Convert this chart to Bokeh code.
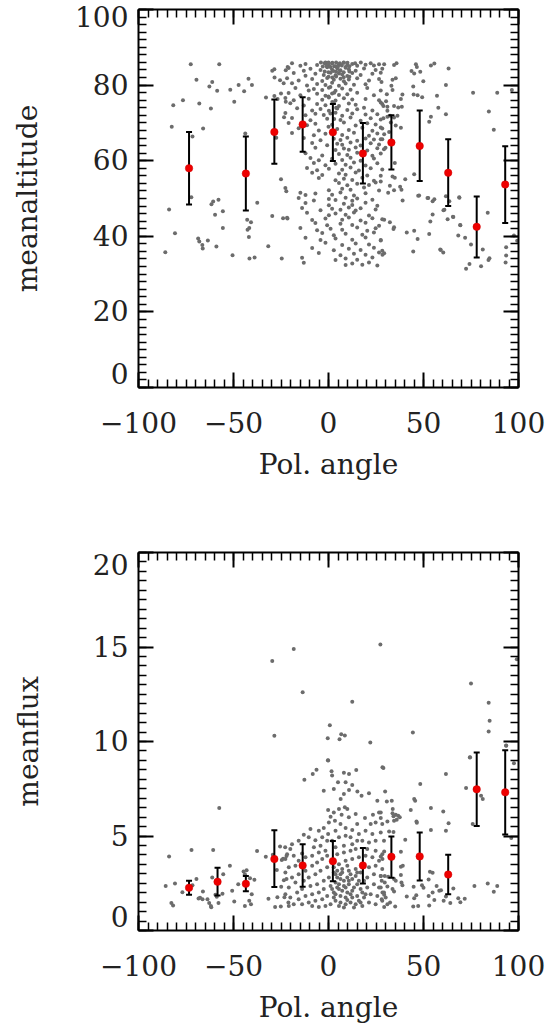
from bokeh.plotting import figure
from bokeh.layouts import column
from bokeh.models import Range1d, LinearAxis, SingleIntervalTicker, CustomJSTickFormatter
from bokeh.embed import file_html
from bokeh.resources import INLINE

FONT = "DejaVu Serif"
FS = "28px"

# ---------------- binned means (red points with error bars) ----------------
alt_bin_x = [-73.4, -43.5, -28.5, -13.6, 2.3, 18.1, 33.1, 48.0, 63.0, 78.0, 93.0]
alt_mean = [58.0, 56.6, 67.6, 69.6, 67.5, 61.9, 64.8, 63.9, 56.8, 42.5, 53.7]
alt_hi = [67.6, 66.4, 76.2, 76.8, 75.0, 70.0, 72.0, 73.3, 65.7, 50.5, 63.8]
alt_lo = [48.4, 46.8, 59.2, 62.4, 59.9, 54.0, 57.7, 54.6, 48.0, 34.4, 43.5]

flux_bin_x = [-73.4, -58.4, -43.5, -28.5, -13.6, 2.3, 18.1, 33.1, 48.0, 63.0, 78.0, 93.0]
flux_mean = [2.26, 2.58, 2.47, 3.78, 3.44, 3.67, 3.44, 3.90, 3.92, 2.96, 7.47, 7.31]
flux_hi = [2.63, 3.32, 2.88, 5.30, 4.57, 4.73, 4.36, 4.98, 5.19, 4.01, 9.42, 9.54]
flux_lo = [1.89, 1.85, 2.08, 2.30, 2.31, 2.61, 2.49, 2.79, 2.65, 1.92, 5.53, 5.08]

# ---------------- individual measurements: meanaltitude ----------------
alt_left = [(-72.5, 85.5), (-57.5, 85.5), (-69.5, 81.4), (-61.2, 80.8), (-62.7, 79.6), (-58.6, 78.5),
            (-51.7, 78.8), (-47.3, 80.0), (-44.4, 78.4), (-42.1, 81.7), (-40.3, 80.0), (-76.6, 76.0),
            (-81.7, 74.7), (-68.0, 75.1), (-61.9, 73.8), (-49.6, 75.6), (-82.5, 69.0), (-66.0, 68.5),
            (-71.6, 66.4), (-43.8, 67.2), (-29.6, 83.8), (-28.5, 84.2), (-22.5, 83.9), (-21.5, 84.8),
            (-28.4, 82.0), (-25.5, 81.3), (-23.6, 80.5), (-32.9, 76.7), (-28.5, 77.1), (-26.8, 76.3),
            (-25.0, 77.8), (-22.5, 75.6), (-23.4, 71.5), (-27.5, 66.1), (-25.0, 55.1), (-22.2, 51.9),
            (-83.9, 47.1), (-72.2, 50.3), (-61.6, 48.5), (-60.7, 49.2), (-57.9, 49.7), (-55.6, 46.6),
            (-59.7, 45.7), (-37.5, 48.9), (-42.8, 44.4), (-40.8, 43.7), (-41.7, 42.2), (-42.6, 41.7),
            (-41.9, 39.8), (-55.6, 42.2), (-29.6, 45.4), (-23.9, 44.8), (-21.6, 44.7), (-80.8, 40.8),
            (-68.6, 39.4), (-68.0, 38.6), (-66.4, 37.7), (-66.2, 36.8), (-63.5, 38.9), (-59.0, 37.3),
            (-85.9, 35.8), (-50.5, 35.0), (-41.6, 34.1), (-38.9, 34.4), (-31.7, 37.4), (-24.6, 34.1)]

alt_right = [(29.3, 85.5), (34.5, 85.3), (35.8, 85.8), (46.0, 85.5), (46.5, 84.8), (53.9, 85.2),
             (55.7, 85.7), (63.2, 84.4), (27.5, 83.3), (43.7, 83.7), (45.1, 83.1), (48.3, 83.5),
             (33.7, 81.4), (35.4, 81.8), (49.9, 81.0), (27.9, 80.8), (33.1, 79.8), (33.7, 78.7),
             (44.6, 79.6), (61.8, 80.0), (30.7, 77.6), (38.9, 77.5), (44.8, 77.5), (46.9, 77.3),
             (49.3, 76.8), (57.1, 77.2), (76.1, 78.0), (88.8, 78.0), (96.5, 78.7), (38.1, 76.3),
             (30.3, 75.7), (27.5, 75.4), (28.9, 74.5), (31.0, 74.3), (34.5, 74.5), (36.7, 74.1),
             (38.6, 74.3), (57.8, 74.0), (31.0, 73.2), (84.4, 73.0), (61.8, 72.3), (28.9, 71.2),
             (31.0, 71.6), (32.4, 71.9), (34.5, 71.4), (36.3, 71.9), (53.9, 71.6), (53.0, 70.3),
             (32.8, 70.1), (35.4, 69.3), (38.1, 68.7), (87.0, 68.2), (27.5, 68.8), (29.3, 67.0),
             (31.9, 67.6), (27.5, 65.7), (30.0, 63.4), (34.9, 59.4), (27.5, 56.0), (33.7, 55.8),
             (34.9, 55.5), (40.4, 55.1), (45.1, 56.4), (27.5, 54.5), (32.3, 53.4), (34.5, 52.2),
             (31.4, 51.5), (37.7, 53.1), (38.4, 52.3), (39.0, 49.5), (47.7, 50.8), (52.5, 50.1),
             (54.8, 49.3), (55.7, 49.8), (61.8, 50.6), (63.6, 49.3), (68.9, 50.2), (61.0, 47.0),
             (54.8, 45.8), (53.6, 43.9), (53.0, 40.6), (62.7, 44.5), (65.7, 45.1), (69.4, 42.9),
             (68.3, 40.2), (71.9, 39.6), (75.0, 37.8), (29.3, 44.4), (32.3, 43.7), (34.5, 42.4),
             (34.2, 41.9), (41.2, 41.0), (45.1, 41.5), (46.9, 39.3), (83.8, 46.2), (27.5, 39.0),
             (28.4, 35.1), (29.3, 35.5), (44.6, 36.0), (58.8, 36.5), (60.4, 35.7), (81.2, 36.5),
             (84.7, 34.2), (84.2, 33.7), (74.2, 32.7), (72.4, 31.4), (80.3, 32.1), (93.5, 37.1),
             (93.5, 34.9), (93.2, 33.1), (97.6, 40.2), (99.3, 38.8), (60.5, 46.9), (65.5, 45.2),
             (68.8, 50.3), (59.1, 36.4), (69.3, 43.0), (47.2, 50.7), (52.1, 50.1)]

alt_center_x = [
    -19.2, -14.8, -12.1, -6.0, -1.6, 0.2, 1.9, 3.7, 5.5, 8.1, 9.9, 12.5, 15.1, 19.5, 22.2, 23.9, 26.6,
    -21.0, -13.0, -9.5, -4.2, -0.7, 1.9, 4.6, 6.3, 9.0, 10.7, 14.3, 18.7, 24.8, 28.3,
    -18.3, -12.1, -6.9, -2.5, 1.1, 3.7, 5.5, 7.2, 9.9, 12.5, 16.9, 23.1,
    -21.8, -15.7, -8.6, -3.3, -0.7, 2.8, 6.3, 8.1, 10.7, 15.1, 21.3, 26.6,
    -19.2, -11.3, -6.0, -1.6, 1.9, 5.5, 9.0, 13.4, 19.5,
    -17.4, -10.4, -7.7, -3.3, 0.2, 3.7, 7.2, 11.6, 20.4, 27.5,
    -21.0, -14.8, -6.0, -1.6, 1.9, 5.5, 9.9, 15.1, 23.9,
    -22.7, -18.3, -10.4, -3.3, 0.2, 3.7, 8.1, 12.5, 19.5, 26.6,
    -20.1, -13.0, -6.0, -1.6, 2.8, 5.5, 10.7, 14.3, 28.3,
    -16.5, -8.6, -4.2, 0.2, 4.6, 9.9, 15.1, 18.7, 23.1,
    -22.7, -12.1, -6.9, -2.5, 3.7, 7.2, 12.5, 19.5, 25.7,
    -19.2, -9.5, -0.7, 6.3, 11.6, 16.9, 22.2, 27.5,
    -21.0, -11.3, -6.9, 1.9, 8.1, 14.3, 20.4, 24.8,
    -15.7, -5.1, 4.6, 10.7, 17.8, 23.1, 28.3,
    -19.2, -7.7, -1.6, 7.2, 13.4, 21.3, 25.7,
    -13.0, -4.2, 2.8, 6.3, 9.9, 15.1, 19.5, 23.9, 28.3,
    -8.6, -0.7, 4.6, 7.2, 11.6, 16.9, 22.2, 26.6,
    -6.9, 3.7, 8.1, 10.7, 14.3, 20.4, 25.7, 29.2,
    -12.1, -3.3, 5.5, 9.9, 15.1, 23.1, 27.5,
    -9.5, -5.1, 1.9, 7.2, 11.6, 16.9, 23.9,
    -7.7, -1.6, 3.7, 9.0, 13.4, 19.5, 25.7,
    -11.3, -6.0, 0.2, 7.2, 11.6, 16.0, 22.2, 28.3,
    -8.6, -3.3, 5.5, 9.0, 14.3, 20.4,
    -5.1, 3.7, 8.1, 12.5, 17.8, 23.9,
    5.5, 9.9, 15.1, 21.3, 24.8,
    -22.7, 0.2, 7.2, 11.6, 18.7, 26.6,
    -14.8, -12.1, -6.9, 1.9, 6.3, 13.4, 19.5,
    -15.7, -7.7, 0.2, 3.7, 9.0, 12.5, 15.1, 23.1,
    -12.1, 0.2, 8.1, 12.5, 19.5, 25.7,
    -13.9, -4.2, 1.9, 6.3, 10.7, 14.3, 16.9, 24.8,
    -11.3, 0.2, 3.7, 9.0, 13.4, 21.3,
    -21.8, -8.6, -1.6, 7.2, 10.7, 16.9, 23.1, 28.3,
    -6.9, -0.7, 6.3, 12.5, 19.5, 26.6,
    -14.8, -6.0, 1.1, 7.2, 15.1, 20.4, 24.8,
    -3.3, 2.8, 9.0, 17.8, 23.9,
    -12.1, -4.2, 3.7, 12.5, 19.5, 27.5,
    -1.6, 7.2, 14.3, 21.3,
    -8.6, 2.8, 10.7, 16.9, 23.9, 28.3,
    -5.1, 6.3, 13.4, 19.5, 26.6,
    -13.9, 3.7, 9.0, 15.1, 23.1,
    -13.0, 9.0, 12.5, 17.8, 21.3, 25.7,
    -4.0, -2.0, 0.0, 2.0, 4.0, 6.0, 8.0, 10.0, 14.0, 17.0,
    -3.0, -1.0, 1.0, 3.0, 5.0, 7.0, 9.0, 11.0,
    -2.0, 0.0, 2.5, 4.0, 6.0, 8.0, 11.0,
    0.0, 2.0, 4.0, 8.0, 11.0,
    1.0, 3.0, 0.0, 2.0, 4.0, 1.0, 3.0, 0.0, 2.0]

alt_center_y = [
    85.8, 85.1, 85.6, 85.3, 86.0, 85.2, 85.7, 85.0, 85.5, 85.9, 85.3, 85.6, 85.1, 85.4, 85.8, 85.2, 85.5,
    84.5, 83.8, 84.3, 84.0, 84.7, 84.1, 84.4, 83.9, 84.6, 84.2, 83.8, 84.4, 84.0, 84.3,
    83.2, 82.5, 83.0, 82.7, 83.3, 82.6, 83.1, 82.8, 82.4, 83.2, 82.7, 83.0,
    81.8, 81.2, 81.6, 81.1, 81.9, 81.4, 81.7, 81.0, 81.5, 81.8, 81.2, 81.6,
    80.5, 79.9, 80.3, 80.0, 80.6, 79.8, 80.4, 80.1, 80.2,
    79.2, 78.6, 79.0, 78.7, 79.3, 78.5, 79.1, 78.8, 79.2, 78.6,
    77.9, 77.3, 77.7, 77.2, 77.8, 77.4, 77.6, 78.0, 77.3,
    76.6, 76.0, 76.4, 76.1, 76.7, 75.9, 76.5, 76.2, 76.3, 76.0,
    75.2, 74.6, 75.0, 74.7, 75.3, 74.5, 75.1, 74.8, 75.0,
    73.9, 73.3, 73.7, 73.2, 73.8, 73.4, 73.6, 74.0, 73.3,
    72.6, 72.0, 72.4, 72.1, 72.7, 71.9, 72.5, 72.2, 72.3,
    71.3, 70.7, 71.1, 70.8, 71.4, 70.6, 71.2, 70.9,
    70.0, 69.4, 69.8, 69.5, 70.1, 69.3, 69.9, 69.6,
    68.6, 68.0, 68.4, 68.1, 68.7, 67.9, 68.5,
    67.3, 66.7, 67.1, 66.8, 67.4, 66.6, 67.2,
    66.0, 65.4, 65.8, 65.5, 66.1, 65.3, 65.9, 65.6, 65.7,
    64.7, 64.1, 64.5, 64.2, 64.8, 64.0, 64.6, 64.3,
    63.4, 62.8, 63.2, 62.9, 63.5, 62.7, 63.3, 63.0,
    62.0, 61.4, 61.8, 61.5, 62.1, 61.3, 61.9,
    60.7, 60.1, 60.5, 60.2, 60.8, 60.0, 60.6,
    59.4, 58.8, 59.2, 58.9, 59.5, 58.7, 59.3,
    58.1, 57.5, 57.9, 57.6, 58.2, 57.4, 58.0, 57.7,
    56.8, 56.2, 56.6, 56.3, 56.9, 56.1,
    55.4, 54.8, 55.2, 54.9, 55.5, 54.7,
    54.1, 53.5, 53.9, 53.6, 54.2,
    52.8, 52.2, 52.6, 52.3, 52.9, 52.1,
    51.5, 50.9, 51.3, 51.0, 51.6, 50.8, 51.4,
    50.1, 49.5, 49.9, 49.6, 50.2, 49.4, 50.0, 49.7,
    48.8, 48.2, 48.6, 48.3, 48.9, 48.1,
    47.5, 46.9, 47.3, 47.0, 47.6, 46.8, 47.4, 47.1,
    46.2, 45.6, 46.0, 45.7, 46.3, 45.5,
    44.9, 44.3, 44.7, 44.4, 45.0, 44.2, 44.8, 44.5,
    43.5, 42.9, 43.3, 43.0, 43.6, 42.8,
    42.2, 41.6, 42.0, 41.7, 42.3, 41.5, 42.1,
    40.9, 40.3, 40.7, 40.4, 41.0,
    39.6, 39.0, 39.4, 39.1, 39.7, 38.9,
    38.3, 37.7, 38.1, 37.8,
    36.9, 36.3, 36.7, 36.4, 37.0, 36.2,
    35.6, 35.0, 35.4, 35.1, 35.7,
    34.3, 33.7, 34.1, 33.8, 34.4,
    33.0, 32.4, 32.8, 32.5, 33.1, 32.3,
    86.0, 85.8, 86.0, 85.9, 86.0, 85.8, 86.0, 85.9, 85.8, 86.0,
    84.9, 85.1, 84.8, 85.0, 84.9, 85.2, 84.8, 85.0,
    83.6, 83.4, 83.7, 83.5, 83.8, 83.4, 83.6,
    82.2, 82.0, 82.3, 82.1, 82.2,
    79.5, 78.0, 77.0, 75.5, 74.0, 72.5, 71.0, 69.0, 67.5]

# ---------------- individual measurements: meanflux ----------------
flux_upper = [(-18.3, 14.89), (-29.6, 14.26), (27.3, 15.13), (-13.6, 12.60), (12.5, 12.10),
              (0.7, 10.86), (-28.5, 10.30), (-0.4, 10.17), (6.7, 10.39), (5.8, 10.12), (8.6, 10.32),
              (22.0, 9.95), (44.4, 10.48), (75.0, 13.07), (84.3, 12.05), (84.8, 11.10), (84.3, 10.53),
              (99.1, 14.35), (93.5, 9.79), (74.4, 9.15), (-0.3, 9.01)]

flux_left = [(-57.5, 6.48), (-72.1, 4.26), (-60.7, 4.26), (-83.9, 3.92), (-85.7, 2.35), (-80.8, 2.49),
             (-82.7, 1.46), (-81.8, 1.32), (-76.9, 2.03), (-71.6, 2.40), (-69.5, 2.72), (-68.4, 1.69),
             (-67.6, 1.73), (-66.3, 1.66), (-66.1, 2.06), (-63.7, 1.66), (-62.8, 1.45), (-61.9, 1.30),
             (-61.7, 1.23), (-61.2, 2.81), (-59.5, 1.89), (-58.8, 1.78), (-57.9, 1.45), (-55.4, 2.98),
             (-55.8, 1.94), (-51.9, 3.43), (-50.7, 2.10), (-49.6, 1.53), (-47.5, 2.45), (-44.7, 3.12),
             (-43.1, 3.19), (-44.0, 2.98), (-41.3, 2.77), (-39.0, 2.68), (-40.4, 1.92), (-41.7, 1.57),
             (-40.8, 1.39), (-44.0, 1.30), (-37.6, 4.20), (-33.0, 3.90), (-31.6, 1.68), (-29.3, 4.01),
             (-25.5, 4.45), (-22.8, 4.41), (-22.1, 3.94), (-24.6, 3.73), (-23.9, 3.80), (-28.1, 1.25),
             (-25.1, 1.27), (-27.2, 3.20), (-23.5, 2.66), (-22.1, 2.72), (-24.9, 2.31), (-26.9, 1.76),
             (-23.2, 1.76), (-21.1, 1.48)]

flux_center = [(-0.2, 8.99), (-6.3, 8.51), (-8.3, 8.28), (1.6, 8.42), (1.9, 8.20), (-12.7, 7.98),
               (8.1, 8.34), (10.8, 8.28), (14.6, 8.49), (5.0, 7.84), (9.0, 7.84), (28.4, 8.64),
               (12.5, 7.70), (2.8, 7.49), (-2.5, 7.40), (10.8, 7.44), (8.1, 7.22), (15.2, 7.36),
               (17.4, 7.13), (6.4, 6.96), (25.7, 6.87), (21.3, 7.26),
               (8.6, 6.52), (9.9, 6.43), (5.5, 6.43), (-0.2, 6.38), (2.8, 6.25), (1.1, 6.02),
               (6.9, 6.13), (10.7, 5.99), (0.2, 5.72), (3.4, 5.81), (-2.5, 5.42), (-5.1, 5.28),
               (-9.5, 5.37), (14.3, 6.16), (19.2, 5.95), (23.4, 6.13), (26.6, 6.25), (22.2, 5.63),
               (24.8, 5.72), (28.3, 5.63), (15.1, 5.63), (6.3, 5.63), (9.0, 5.42), (12.5, 5.32),
               (3.7, 5.28), (-0.2, 5.10), (-3.3, 4.93), (-6.9, 4.78), (-10.4, 4.93), (-13.0, 5.07),
               (-15.7, 4.75), (-19.2, 4.57), (-20.1, 4.31), (-21.8, 4.04), (-22.7, 3.78), (-18.3, 3.95),
               (-13.9, 4.08), (-7.7, 4.40), (-4.2, 4.48), (-0.7, 4.75), (1.9, 4.75), (5.5, 4.93),
               (9.0, 5.01), (11.6, 4.93), (16.0, 5.10), (19.5, 5.28), (23.1, 5.10), (27.5, 5.19),
               (29.2, 4.75), (24.8, 4.75), (21.3, 4.66), (17.8, 4.75), (15.1, 4.75), (12.5, 4.57),
               (8.1, 4.48), (3.7, 4.40), (-1.6, 4.22), (-5.1, 4.13), (-8.6, 3.95), (-12.1, 3.87),
               (-15.7, 3.69), (-17.4, 3.42), (-20.9, 3.34), (-22.7, 3.07), (-19.2, 2.81), (-15.7, 2.98),
               (-12.1, 3.16), (-8.6, 3.42), (-6.0, 3.60), (-3.3, 3.78), (-0.7, 3.95), (4.6, 4.04),
               (8.1, 4.13), (11.6, 4.22), (14.3, 4.31), (20.4, 4.31), (24.8, 4.22), (28.3, 4.04),
               (26.6, 3.69), (23.1, 3.87), (19.5, 3.95), (16.0, 3.87), (12.5, 3.78), (9.0, 3.69),
               (5.5, 3.51), (2.8, 3.34), (-0.7, 3.34), (-4.2, 3.16), (-6.9, 2.98), (-10.4, 2.81),
               (-13.0, 2.63), (-17.4, 2.54), (-20.9, 2.28), (-22.7, 1.92), (-20.1, 1.75), (-16.5, 2.01),
               (-13.9, 2.19), (-9.5, 2.36), (-6.0, 2.45), (-2.5, 2.63), (0.2, 2.81), (3.7, 2.98),
               (7.2, 3.07), (10.7, 3.16), (14.3, 3.25), (16.9, 3.07), (21.3, 3.34), (24.8, 3.42),
               (28.3, 3.25), (27.5, 2.89), (23.9, 2.98), (20.4, 2.81), (16.0, 2.63), (12.5, 2.72),
               (9.9, 2.81), (6.3, 2.72), (3.7, 2.54), (1.1, 2.36), (-2.5, 2.19), (-5.1, 2.01),
               (-8.6, 1.92), (-12.1, 1.83), (-15.7, 1.66), (-18.3, 1.39), (-20.9, 1.30), (-13.9, 1.39),
               (-10.4, 1.48), (-6.9, 1.57), (-3.3, 1.66), (-0.7, 1.83), (2.8, 2.01), (5.5, 2.19),
               (8.1, 2.36), (10.7, 2.45), (13.4, 2.28), (16.9, 2.19), (20.4, 2.28), (23.9, 2.45),
               (26.6, 2.28), (29.2, 2.01), (25.7, 1.83), (22.2, 1.92), (18.7, 1.75), (15.1, 1.83),
               (11.6, 1.92), (9.0, 1.75), (6.3, 1.83), (3.7, 1.57), (1.1, 1.39), (-1.6, 1.30),
               (-5.1, 1.25), (-8.6, 1.30), (5.5, 1.30), (9.0, 1.39), (11.6, 1.48), (14.3, 1.39),
               (17.8, 1.30), (21.3, 1.48), (24.8, 1.39), (28.3, 1.57), (7.2, 2.10), (9.9, 2.01),
               (4.6, 2.28), (8.1, 2.63), (6.3, 2.98), (9.9, 3.42), (4.6, 3.16), (7.2, 3.25),
               (11.6, 2.98), (14.3, 2.89), (5.5, 2.45), (9.0, 2.28), (12.5, 2.10), (15.1, 2.45),
               (17.8, 2.01), (2.8, 1.75), (6.3, 1.48), (9.9, 1.61), (12.5, 1.75), (16.0, 1.57),
               (19.5, 1.92), (3.7, 1.92), (8.1, 1.22), (13.4, 1.22), (16.9, 1.48), (1.9, 2.19),
               (10.7, 2.63), (15.1, 3.07), (18.7, 2.63), (4.6, 2.81), (2.8, 3.07)]

flux_right = [(93.5, 9.78), (74.5, 9.17), (97.6, 8.85), (61.8, 8.28), (48.3, 7.75), (28.9, 8.60),
              (72.4, 7.54), (80.3, 7.13), (81.2, 6.96), (29.8, 7.36), (30.7, 6.82), (33.3, 6.87),
              (45.1, 6.96), (45.6, 6.87), (53.9, 6.48), (43.3, 6.38), (60.4, 6.30), (33.8, 6.43),
              (33.7, 6.20), (34.2, 6.04), (35.4, 6.13), (36.7, 6.07), (37.5, 5.99), (34.5, 5.81),
              (35.9, 5.86), (31.0, 5.77), (27.5, 6.25), (27.5, 5.95), (46.3, 5.77), (46.5, 5.70),
              (63.2, 5.67), (75.9, 5.63), (53.9, 5.32), (61.8, 5.28), (31.9, 5.24), (34.2, 5.21),
              (96.2, 4.89), (40.4, 4.80), (29.3, 4.18), (38.1, 4.17), (27.5, 3.92), (28.4, 3.78),
              (38.1, 3.37), (39.1, 3.42), (53.4, 3.11), (54.8, 3.05), (27.5, 2.89), (29.6, 2.88),
              (31.4, 2.84), (38.1, 2.93), (34.5, 2.72), (35.4, 2.63), (28.0, 2.63), (29.6, 2.54),
              (52.7, 2.70), (27.5, 2.28), (31.0, 2.33), (33.7, 2.19), (34.5, 2.06), (38.4, 2.54),
              (38.9, 2.40), (44.8, 2.31), (49.2, 2.40), (50.0, 2.26), (56.9, 2.35), (58.3, 2.10),
              (59.2, 2.13), (54.8, 2.01), (52.7, 1.83), (61.8, 1.80), (60.6, 1.57), (64.1, 1.45),
              (65.7, 2.22), (68.3, 1.71), (69.4, 1.50), (71.7, 1.68), (28.4, 2.01), (29.3, 1.89),
              (30.1, 1.75), (28.0, 1.66), (32.4, 1.48), (35.1, 1.27), (29.3, 1.25), (31.0, 1.39),
              (41.2, 1.80), (45.1, 1.71), (46.2, 1.87), (44.6, 1.27), (47.2, 1.30), (53.0, 1.32),
              (55.7, 1.61), (76.8, 2.35), (83.8, 2.49), (87.0, 2.05), (88.8, 2.35)]

# ---------------- assemble ----------------
alt_pts = alt_left + alt_right + list(zip(alt_center_x, alt_center_y))
alt_x = [p[0] for p in alt_pts]
alt_y = [p[1] for p in alt_pts]
flux_pts = flux_upper + flux_left + flux_center + flux_right
flux_x = [p[0] for p in flux_pts]
flux_y = [p[1] for p in flux_pts]

x_tick_text = {-100: "\u2212100", -50: "\u221250"}

TEXT_COLOR = "#222222"


def style_axis(ax, interval, minor_len=8):
    ax.ticker = SingleIntervalTicker(interval=interval, num_minor_ticks=10)
    ax.axis_line_width = 2
    ax.axis_line_color = "black"
    ax.major_tick_line_width = 2
    ax.major_tick_line_color = "black"
    ax.minor_tick_line_width = 1.5
    ax.minor_tick_line_color = "black"
    ax.major_tick_in = 15
    ax.major_tick_out = 0
    ax.minor_tick_in = minor_len
    ax.minor_tick_out = 0
    ax.major_label_text_font = FONT
    ax.major_label_text_font_size = FS
    ax.major_label_text_color = TEXT_COLOR
    ax.axis_label_text_font = FONT
    ax.axis_label_text_font_size = FS
    ax.axis_label_text_font_style = "normal"
    ax.axis_label_text_color = TEXT_COLOR


def make_panel(xs, ys, bx, bm, bhi, blo, ymax, yint, ylabel, top_border, bottom_border,
               ylab_standoff, top_text):
    p = figure(width=549, height=516, output_backend="svg", toolbar_location=None,
               x_range=Range1d(-100, 100), y_range=Range1d(0, ymax),
               min_border_left=138, min_border_right=31,
               min_border_top=top_border, min_border_bottom=bottom_border)
    p.grid.visible = False
    p.outline_line_color = None
    p.background_fill_color = "white"
    p.border_fill_color = "white"

    style_axis(p.xaxis[0], 50)
    style_axis(p.yaxis[0], yint)
    p.xaxis[0].axis_label = "Pol. angle"
    p.xaxis[0].major_label_overrides = x_tick_text
    p.xaxis[0].major_label_standoff = 24
    p.xaxis[0].axis_label_standoff = 12
    p.yaxis[0].axis_label = ylabel
    p.yaxis[0].major_label_standoff = 10
    p.yaxis[0].axis_label_standoff = ylab_standoff
    p.yaxis[0].major_label_text_line_height = 0.8
    p.yaxis[0].major_label_overrides = {0: "0\n", ymax: top_text}

    top = LinearAxis()
    style_axis(top, 50)
    top.formatter = CustomJSTickFormatter(code="return ''")
    top.major_label_standoff = 0
    p.add_layout(top, "above")
    right = LinearAxis()
    style_axis(right, yint)
    right.formatter = CustomJSTickFormatter(code="return ''")
    right.major_label_standoff = 0
    p.add_layout(right, "right")

    p.scatter(xs, ys, size=4, fill_color="#6c6c6c", line_color=None)
    p.segment(x0=bx, y0=blo, x1=bx, y1=bhi, line_color="black", line_width=2)
    p.scatter(bx, bhi, marker="dash", size=6, line_color="black", line_width=2)
    p.scatter(bx, blo, marker="dash", size=6, line_color="black", line_width=2)
    p.scatter(bx, bm, size=7.5, fill_color="#ee0000", line_color="#d00000", line_width=0.5)
    return p


p1 = make_panel(alt_x, alt_y, alt_bin_x, alt_mean, alt_hi, alt_lo, 100, 20, "meanaltitude",
                9, 129, 28, "100")
p2 = make_panel(flux_x, flux_y, flux_bin_x, flux_mean, flux_hi, flux_lo, 20, 5, "meanflux",
                36, 102, 45, "\n20")

layout = column(p1, p2, spacing=0)
open("out.html", "w").write(file_html(layout, INLINE))
